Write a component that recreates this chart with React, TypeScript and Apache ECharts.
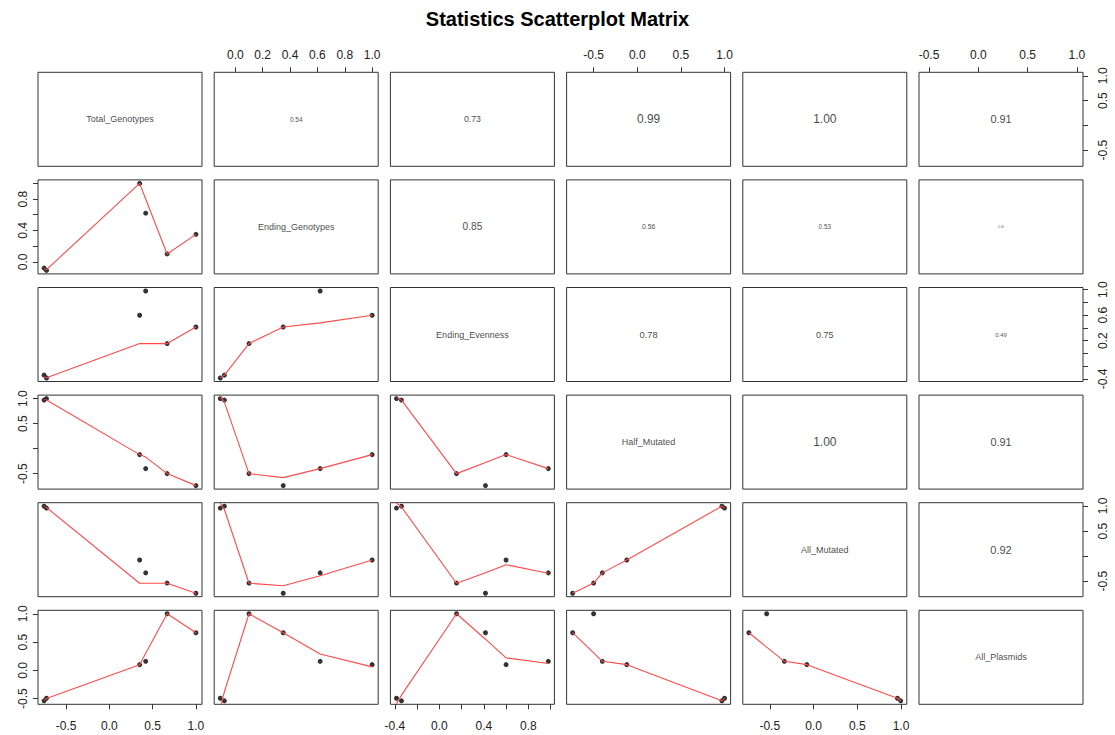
import React, { useEffect, useRef } from "react";
import * as echarts from "echarts";

// ---------- data ----------
const variables = [
  "Total_Genotypes",
  "Ending_Genotypes",
  "Ending_Evenness",
  "Half_Mutated",
  "All_Mutated",
  "All_Plasmids",
];

// six observations (A..F)
const totalGenotypes = [-0.756, -0.728, 0.349, 0.419, 0.667, 1.0];
const endingGenotypes = [-0.08, -0.11, 1.0, 0.62, 0.1, 0.35];
const endingEvenness = [-0.34, -0.385, 0.6, 0.98, 0.155, 0.415];
const halfMutated = [0.97, 1.0, -0.12, -0.4, -0.5, -0.74];
const allMutated = [0.997, 0.959, -0.076, -0.333, -0.536, -0.739];
const allPlasmids = [-0.54, -0.494, 0.1, 0.159, 1.0, 0.665];

// smoother (lowess) fitted values per lower panel, per observation A..F
const smoothEG_TG = [-0.09, -0.1, 1.0, 0.8, 0.1, 0.35];
const smoothEE_TG = [-0.36, -0.38, 0.155, 0.155, 0.155, 0.415];
const smoothHM_TG = [0.98, 0.97, -0.12, -0.17, -0.5, -0.74];
const smoothAM_TG = [0.99, 0.97, -0.54, -0.54, -0.54, -0.739];
const smoothAP_TG = [-0.53, -0.5, 0.1, 0.3, 1.0, 0.665];
const smoothEE_EG = [-0.34, -0.38, 0.6, 0.48, 0.155, 0.415];
const smoothHM_EG = [0.93, 1.05, -0.12, -0.4, -0.5, -0.58];
const smoothAM_EG = [0.93, 1.06, -0.076, -0.39, -0.54, -0.59];
const smoothAP_EG = [-0.38, -0.66, 0.06, 0.29, 1.0, 0.665];
const smoothHM_EE = [0.97, 1.04, -0.12, -0.4, -0.5, -0.28];
const smoothAM_EE = [0.98, 1.06, -0.17, -0.34, -0.54, -0.33];
const smoothAP_EE = [-0.44, -0.59, 0.22, 0.12, 1.0, 0.55];
const smoothAM_HM = [0.997, 0.959, -0.076, -0.333, -0.536, -0.739];
const smoothAP_HM = [-0.54, -0.494, 0.1, 0.159, 0.31, 0.665];
const smoothAP_AM = [-0.54, -0.494, 0.1, 0.159, 0.41, 0.665];

// correlation texts shown in upper panels
const corrRow1 = [null, "0.54", "0.73", "0.99", "1.00", "0.91"];
const corrRow2 = [null, null, "0.85", "0.56", "0.53", "0.26"];
const corrRow3 = [null, null, null, "0.78", "0.75", "0.49"];
const corrRow4 = [null, null, null, null, "1.00", "0.91"];
const corrRow5 = [null, null, null, null, null, "0.92"];
const corrRow6 = [null, null, null, null, null, null];

// tick values and labelled ticks
const tgTicks = [-0.5, 0, 0.5, 1.0];
const egTicks = [0, 0.2, 0.4, 0.6, 0.8, 1.0];
const eeTicks = [-0.4, -0.2, 0, 0.2, 0.4, 0.6, 0.8, 1.0];
const hmTicks = [-0.5, 0, 0.5, 1.0];
const amTicks = [-0.5, 0, 0.5, 1.0];
const apTicks = [-0.5, 0, 0.5, 1.0];

const xLabelTG = [-0.5, 0, 0.5, 1.0];
const xLabelEG = [0, 0.2, 0.4, 0.6, 0.8, 1.0];
const xLabelEE = [-0.4, 0, 0.4, 0.8];
const xLabelHM = [-0.5, 0, 0.5, 1.0];
const xLabelAM = [-0.5, 0, 0.5, 1.0];
const xLabelAP = [-0.5, 0, 0.5, 1.0];

const yLabelTG = [-0.5, 0.5, 1.0];
const yLabelEG = [0, 0.4, 0.8];
const yLabelEE = [-0.4, 0.2, 0.6, 1.0];
const yLabelHM = [-0.5, 0.5, 1.0];
const yLabelAM = [-0.5, 0.5, 1.0];
const yLabelAP = [-0.5, 0, 0.5, 1.0];

// ---------- assembly ----------
const columns = [totalGenotypes, endingGenotypes, endingEvenness, halfMutated, allMutated, allPlasmids];
const tickValues = [tgTicks, egTicks, eeTicks, hmTicks, amTicks, apTicks];
const xLabelValues = [xLabelTG, xLabelEG, xLabelEE, xLabelHM, xLabelAM, xLabelAP];
const yLabelValues = [yLabelTG, yLabelEG, yLabelEE, yLabelHM, yLabelAM, yLabelAP];
const corrText = [corrRow1, corrRow2, corrRow3, corrRow4, corrRow5, corrRow6];
const smoothFits: Record<string, number[]> = {
  "1-0": smoothEG_TG,
  "2-0": smoothEE_TG,
  "3-0": smoothHM_TG,
  "4-0": smoothAM_TG,
  "5-0": smoothAP_TG,
  "2-1": smoothEE_EG,
  "3-1": smoothHM_EG,
  "4-1": smoothAM_EG,
  "5-1": smoothAP_EG,
  "3-2": smoothHM_EE,
  "4-2": smoothAM_EE,
  "5-2": smoothAP_EE,
  "4-3": smoothAM_HM,
  "5-3": smoothAP_HM,
  "5-4": smoothAP_AM,
};

const FONT = '"Liberation Sans", Arial, Helvetica, sans-serif';
const PANEL_W = 164;
const PANEL_H = 94;
const colLeft = (c: number) => 38 + c * 176.2;
const rowTop = (r: number) => 72.3 + r * 107.6;

const padRange = (v: number[]) => {
  const mn = Math.min(...v);
  const mx = Math.max(...v);
  const p = (mx - mn) * 0.04;
  return [mn - p, mx + p];
};

function buildOption() {
  const grids: any[] = [];
  const xAxes: any[] = [];
  const yAxes: any[] = [];
  const series: any[] = [];
  const fmt = (v: number) => v.toFixed(1);

  for (let r = 0; r < 6; r++) {
    for (let c = 0; c < 6; c++) {
      const idx = r * 6 + c;
      grids.push({
        left: colLeft(c),
        top: rowTop(r),
        width: PANEL_W,
        height: PANEL_H,
        show: true,
        borderColor: "#333",
        borderWidth: 1,
        backgroundColor: "transparent",
      });
      const [xmin, xmax] = padRange(columns[c]);
      const [ymin, ymax] = padRange(columns[r]);
      const xTop = r === 0 && c % 2 === 1;
      const xBottom = r === 5 && c % 2 === 0;
      const showX = xTop || xBottom;
      xAxes.push({
        gridIndex: idx,
        type: "value",
        min: xmin,
        max: xmax,
        position: xTop ? "top" : "bottom",
        axisLine: { show: false, onZero: false },
        splitLine: { show: false },
        axisTick: {
          show: showX,
          customValues: tickValues[c],
          length: 5,
          lineStyle: { color: "#333", width: 1 },
        },
        axisLabel: {
          show: showX,
          customValues: xLabelValues[c],
          formatter: fmt,
          fontSize: 12,
          color: "#222",
          fontFamily: FONT,
          margin: xTop ? 11 : 16,
        },
      });
      const yLeft = c === 0 && r % 2 === 1;
      const yRight = c === 5 && r % 2 === 0;
      const showY = yLeft || yRight;
      yAxes.push({
        gridIndex: idx,
        type: "value",
        min: ymin,
        max: ymax,
        position: yRight ? "right" : "left",
        axisLine: { show: false, onZero: false },
        splitLine: { show: false },
        axisTick: {
          show: showY,
          customValues: tickValues[r],
          length: 5,
          lineStyle: { color: "#333", width: 1 },
        },
        axisLabel: {
          show: showY,
          customValues: yLabelValues[r],
          formatter: fmt,
          rotate: 90,
          fontSize: 12,
          color: "#222",
          fontFamily: FONT,
          margin: yRight ? 14 : 9,
        },
      });

      const cx = (xmin + xmax) / 2;
      const cy = (ymin + ymax) / 2;
      if (r === c) {
        series.push({
          type: "scatter",
          xAxisIndex: idx,
          yAxisIndex: idx,
          silent: true,
          symbolSize: 1,
          itemStyle: { color: "rgba(0,0,0,0)" },
          data: [[cx, cy]],
          label: {
            show: true,
            position: "inside",
            formatter: variables[r],
            fontSize: 9,
            color: "#111",
            fontFamily: FONT,
          },
        });
      } else if (r < c) {
        const txt = corrText[r][c];
        if (txt) {
          series.push({
            type: "scatter",
            xAxisIndex: idx,
            yAxisIndex: idx,
            silent: true,
            symbolSize: 1,
            itemStyle: { color: "rgba(0,0,0,0)" },
            data: [[cx, cy]],
            label: {
              show: true,
              position: "inside",
              formatter: txt,
              fontSize: Math.max(2.5, 12 * parseFloat(txt)),
              color: "#111",
              fontFamily: FONT,
            },
          });
        }
      } else {
        const xs = columns[c];
        const ys = columns[r];
        series.push({
          type: "scatter",
          xAxisIndex: idx,
          yAxisIndex: idx,
          silent: true,
          symbol: "circle",
          symbolSize: 5,
          itemStyle: { color: "#000" },
          data: xs.map((x, i) => [x, ys[i]]),
        });
        const fit = smoothFits[`${r}-${c}`];
        const order = xs.map((_, i) => i).sort((a, b) => xs[a] - xs[b]);
        series.push({
          type: "line",
          xAxisIndex: idx,
          yAxisIndex: idx,
          silent: true,
          showSymbol: false,
          symbol: "none",
          clip: true,
          lineStyle: { color: "#ff4a4a", width: 1.1 },
          data: order.map((i) => [xs[i], fit[i]]),
        });
      }
    }
  }

  return {
    animation: false,
    backgroundColor: "#ffffff",
    title: {
      text: "Statistics Scatterplot Matrix",
      left: "center",
      top: 4,
      textStyle: { fontSize: 20, fontWeight: "bold", color: "#000", fontFamily: FONT },
    },
    grid: grids,
    xAxis: xAxes,
    yAxis: yAxes,
    series,
  };
}

export default function App() {
  const ref = useRef<HTMLDivElement>(null);
  useEffect(() => {
    document.body.style.margin = "0";
    if (!ref.current) return;
    const chart = echarts.init(ref.current, null, { renderer: "svg" });
    chart.setOption(buildOption());
    return () => chart.dispose();
  }, []);
  return <div ref={ref} style={{ width: 1115, height: 735, background: "#fff" }} />;
}
